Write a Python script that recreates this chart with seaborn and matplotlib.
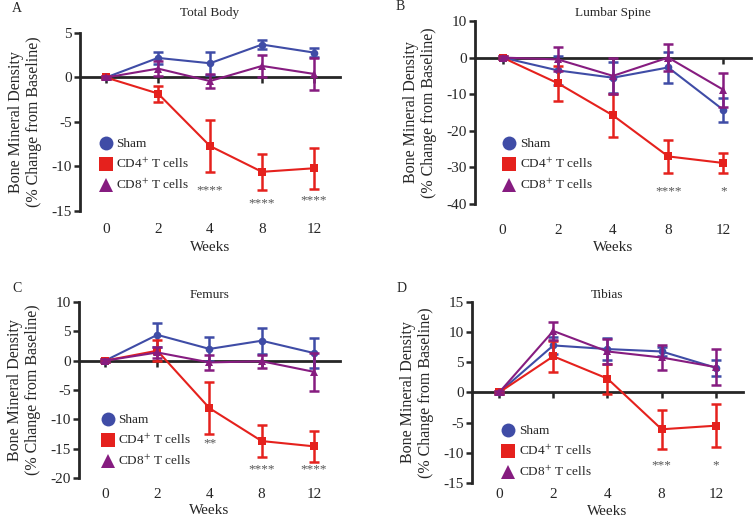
import numpy as np
import matplotlib
matplotlib.use('Agg')
import matplotlib.pyplot as plt
from matplotlib.lines import Line2D
import seaborn as sns

weeks = ['0', '2', '4', '8', '12']
groups = ['Sham', 'CD4$^{+}$ T cells', 'CD8$^{+}$ T cells']

# Total Body
tb_sham = [0, 2.2, 1.6, 3.7, 2.8]
tb_sham_err = [0.2, 0.7, 1.3, 0.5, 0.5]
tb_cd4 = [0, -1.8, -7.7, -10.6, -10.2]
tb_cd4_err = [0.2, 0.9, 2.9, 2.0, 2.3]
tb_cd8 = [0, 1.0, -0.4, 1.3, 0.4]
tb_cd8_err = [0.2, 0.8, 0.8, 1.2, 1.8]
tb_stars = [(2, -12.7, '****'), (3, -14.1, '****'), (4, -13.8, '****')]

# Lumbar Spine
ls_sham = [0, -3.5, -5.5, -2.7, -14.3]
ls_sham_err = [0.3, 4.0, 4.2, 4.3, 3.2]
ls_cd4 = [0, -7.0, -15.8, -27.0, -28.8]
ls_cd4_err = [0.3, 4.8, 5.8, 4.6, 2.8]
ls_cd8 = [0, -0.5, -5.0, 0.0, -8.8]
ls_cd8_err = [0.3, 3.3, 5.0, 3.6, 4.7]
ls_stars = [(3, -36.5, '****'), (4, -36.5, '*')]

# Femurs
fe_sham = [0, 4.4, 2.0, 3.4, 1.3]
fe_sham_err = [0.3, 2.0, 2.0, 2.2, 2.6]
fe_cd4 = [0, 1.7, -8.1, -13.7, -14.6]
fe_cd4_err = [0.3, 1.8, 4.4, 2.8, 2.6]
fe_cd8 = [0, 1.4, -0.3, -0.1, -1.9]
fe_cd8_err = [0.3, 1.0, 1.3, 1.1, 3.2]
fe_stars = [(2, -14.1, '**'), (3, -18.6, '****'), (4, -18.6, '****')]

# Tibias
ti_sham = [0, 7.8, 7.2, 6.8, 4.1]
ti_sham_err = [0.3, 1.4, 1.8, 0.8, 1.3]
ti_cd4 = [0, 6.0, 2.3, -6.1, -5.5]
ti_cd4_err = [0.3, 2.6, 2.5, 3.2, 3.6]
ti_cd8 = [0, 10.2, 6.8, 5.8, 4.2]
ti_cd8_err = [0.3, 1.5, 2.1, 2.0, 3.0]
ti_stars = [(3, -12.0, '***'), (4, -12.0, '*')]

colors = ['#3F4CA6', '#E5211D', '#861C80']
markers = ['o', 's', '^']

panels = [
    dict(letter='A', title='Total Body', rect=[0.1062, 0.5927, 0.3453, 0.3436],
         ylim=(-15, 5), yticks=[-15, -10, -5, 0, 5], pad=12, xpad=8.5, wpad=3.5,
         means=[tb_sham, tb_cd4, tb_cd8], errs=[tb_sham_err, tb_cd4_err, tb_cd8_err],
         stars=tb_stars, leg=(0.073, 0.258), lpos=(12, 8)),
    dict(letter='B', title='Lumbar Spine', rect=[0.6308, 0.6062, 0.3665, 0.3533],
         ylim=(-40, 10), yticks=[-40, -30, -20, -10, 0, 10], pad=3.5, xpad=14.5, wpad=2.5,
         means=[ls_sham, ls_cd4, ls_cd8], errs=[ls_sham_err, ls_cd4_err, ls_cd8_err],
         stars=ls_stars, leg=(0.10, 0.213), lpos=(396, 7)),
    dict(letter='C', title='Femurs', rect=[0.1049, 0.0772, 0.3466, 0.3398],
         ylim=(-20, 10), yticks=[-20, -15, -10, -5, 0, 5, 10], pad=3, xpad=7, wpad=2,
         means=[fe_sham, fe_cd4, fe_cd8], errs=[fe_sham_err, fe_cd4_err, fe_cd8_err],
         stars=fe_stars, leg=(0.084, 0.21), lpos=(12, 288)),
    dict(letter='D', title='Tibias', rect=[0.6268, 0.0676, 0.3599, 0.3494],
         ylim=(-15, 15), yticks=[-15, -10, -5, 0, 5, 10, 15], pad=3, xpad=3.5, wpad=3,
         means=[ti_sham, ti_cd4, ti_cd8], errs=[ti_sham_err, ti_cd4_err, ti_cd8_err],
         stars=ti_stars, leg=(0.11, 0.171), lpos=(397, 288)),
]

sns.set_style('ticks')
plt.rcParams['font.family'] = ['Liberation Serif', 'DejaVu Serif']
plt.rcParams['mathtext.fontset'] = 'stix'
plt.rcParams['axes.unicode_minus'] = False

fig = plt.figure(figsize=(7.53, 5.18), dpi=100)
x = np.arange(len(weeks))

for p in panels:
    ax = fig.add_axes(p['rect'])
    for i in range(len(groups)):
        m = np.array(p['means'][i])
        e = np.array(p['errs'][i])
        ax.errorbar(x, m, yerr=e, fmt='none', ecolor=colors[i], elinewidth=1.8,
                    capsize=3.5, capthick=1.8, zorder=3 + i)
        sns.lineplot(x=x, y=m, color=colors[i], marker=markers[i], markersize=5.5,
                     markeredgewidth=0, linewidth=1.5, ax=ax, zorder=3 + i)

    for xi, yi, s in p['stars']:
        ax.text(xi, yi, s, ha='center', va='center', color='#555555', fontsize=9.5)

    ax.set_xlim(-0.5, 4.5)
    ax.set_ylim(*p['ylim'])
    ax.set_yticks(p['yticks'])
    ax.tick_params(axis='y', length=4, width=1.8, labelsize=11, pad=2)
    ax.spines['left'].set_linewidth(2)
    ax.spines['top'].set_visible(False)
    ax.spines['right'].set_visible(False)
    # baseline at zero with short ticks
    ax.spines['bottom'].set_position(('data', 0))
    ax.spines['bottom'].set_linewidth(2)
    ax.set_xticks(x)
    ax.tick_params(axis='x', labelbottom=False, length=4, width=1.8)

    sec = ax.secondary_xaxis('bottom')
    sec.set_xticks(x, weeks)
    sec.tick_params(length=0, labelsize=11, pad=p['xpad'])
    sec.spines['bottom'].set_visible(False)
    sec.set_xlabel('Weeks', fontsize=11, labelpad=p['wpad'])

    ax.set_ylabel('Bone Mineral Density\n(% Change from Baseline)', fontsize=11.5,
                  linespacing=1.1, labelpad=7)
    ax.set_title(p['title'], fontsize=9.5, pad=p['pad'])

    handles = [Line2D([], [], marker=markers[i], color=colors[i], ls='none',
                      markersize=10, markeredgewidth=0) for i in range(len(groups))]
    ax.legend(handles, groups, loc='center left', bbox_to_anchor=p['leg'],
              frameon=False, fontsize=9.5, handlelength=1.0, handletextpad=0.3,
              labelspacing=0.5, borderpad=0, borderaxespad=0)

    fig.text(p['lpos'][0] / 753, 1 - p['lpos'][1] / 518, p['letter'], fontsize=10,
             ha='left', va='center')

fig.savefig('out.png', dpi=100)
